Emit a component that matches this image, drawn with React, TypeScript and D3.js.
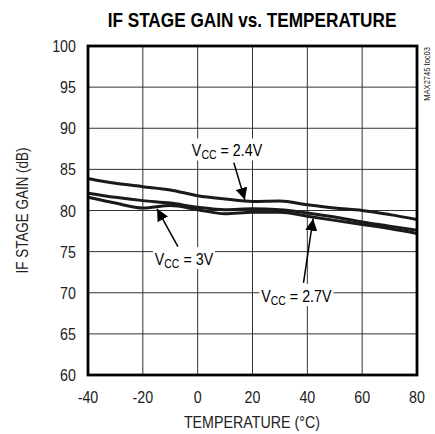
import React from "react";
import * as d3 from "d3";

// temperatures (°C) and gain (dB) per supply voltage
const temps = [-40, -30, -20, -10, 0, 10, 20, 30, 40, 50, 60, 70, 80];
const gain24 = [83.9, 83.3, 82.9, 82.5, 81.8, 81.4, 81.1, 81.15, 80.7, 80.3, 80.0, 79.5, 78.9];
const gain27 = [82.1, 81.6, 81.2, 80.9, 80.4, 80.1, 80.2, 80.1, 79.7, 79.2, 78.6, 78.1, 77.6];
const gain30 = [81.6, 80.9, 80.3, 80.6, 80.1, 79.6, 79.8, 79.8, 79.3, 78.8, 78.3, 77.8, 77.2];

const xTicks = [-40, -20, 0, 20, 40, 60, 80];
const yTicks = [60, 65, 70, 75, 80, 85, 90, 95, 100];

// annotation: label position, arrow start, arrow tip (data units)
const notes = [
  { text: "2.4V", lx: 10.7, ly: 87.3, ax: [13.2, 85.8], tip: [17.2, 81.3] },
  { text: "3V", lx: -5, ly: 74.1, ax: [-7.2, 75.6], tip: [-14.8, 80.2] },
  { text: "2.7V", lx: 36, ly: 69.6, ax: [38.6, 71.2], tip: [42.1, 79.0] },
];

const FONT = "'Liberation Sans', Arial, sans-serif";

// condensed text helper (horizontal squeeze mimics a narrow face)
const T = ({ x, y, rot = 0, sq = 0.84, children, ...rest }: any) => (
  <text transform={`translate(${x},${y}) rotate(${rot}) scale(${sq},1)`} {...rest}>
    {children}
  </text>
);

export default function App() {
  const margin = { left: 88, top: 46, right: 18, bottom: 59 };
  const width = 435;
  const height = 434;
  const x = d3.scaleLinear().domain([-40, 80]).range([margin.left, width - margin.right]);
  const y = d3.scaleLinear().domain([60, 100]).range([height - margin.bottom, margin.top]);

  const line = d3
    .line<number>()
    .x((_, i) => x(temps[i]))
    .y((d) => y(d))
    .curve(d3.curveMonotoneX);

  const series = [gain24, gain27, gain30];

  return (
    <svg
      width={width}
      height={height}
      style={{ position: "absolute", left: 0, top: 0, background: "#fff" }}
      fontFamily={FONT}
    >
      <defs>
        <marker id="head" viewBox="0 0 10 10" refX="10" refY="5" markerWidth="12" markerHeight="12" markerUnits="userSpaceOnUse" orient="auto">
          <path d="M0,0 L10,5 L0,10 z" fill="#000" />
        </marker>
      </defs>

      <T x={252} y={27} sq={0.86} textAnchor="middle" fontSize={20} fontWeight="bold" fill="#000">
        IF STAGE GAIN vs. TEMPERATURE
      </T>

      {/* grid */}
      {xTicks.slice(1, -1).map((t) => (
        <line key={"gx" + t} x1={x(t)} x2={x(t)} y1={y(60)} y2={y(100)} stroke="#333" strokeWidth={1} />
      ))}
      {yTicks.slice(1, -1).map((t) => (
        <line key={"gy" + t} x1={x(-40)} x2={x(80)} y1={y(t)} y2={y(t)} stroke="#333" strokeWidth={1} />
      ))}

      {/* curves */}
      {series.map((s, i) => (
        <path key={i} d={line(s) || ""} fill="none" stroke="#1a1a1a" strokeWidth={3} />
      ))}

      {/* annotations */}
      {notes.map((n) => {
        const w = n.text.length > 2 ? 74 : 62;
        return (
          <g key={n.text}>
            <rect x={x(n.lx) - w / 2} y={y(n.ly) - 12} width={w} height={22} fill="#fff" />
            <T x={x(n.lx)} y={y(n.ly) + 6} textAnchor="middle" fontSize={17} fill="#000">
              V<tspan fontSize={12.5} dy={3}>CC</tspan>
              <tspan dy={-3}>{" = " + n.text}</tspan>
            </T>
            <line
              x1={x(n.ax[0])}
              y1={y(n.ax[1])}
              x2={x(n.tip[0])}
              y2={y(n.tip[1])}
              stroke="#000"
              strokeWidth={1.5}
              markerEnd="url(#head)"
            />
          </g>
        );
      })}

      {/* frame */}
      <rect
        x={x(-40)}
        y={y(100)}
        width={x(80) - x(-40)}
        height={y(60) - y(100)}
        fill="none"
        stroke="#000"
        strokeWidth={2.8}
      />

      {/* tick labels */}
      {yTicks.map((t) => (
        <T key={"ty" + t} x={76} y={y(t) + 6} textAnchor="end" fontSize={17} fill="#222">
          {t}
        </T>
      ))}
      {xTicks.map((t) => (
        <T key={"tx" + t} x={x(t)} y={403} textAnchor="middle" fontSize={17} fill="#222">
          {t}
        </T>
      ))}

      <T x={252} y={428} textAnchor="middle" fontSize={17} fill="#222">
        TEMPERATURE (°C)
      </T>
      <T x={28} y={(y(60) + y(100)) / 2} rot={-90} textAnchor="middle" fontSize={16} fill="#222">
        IF STAGE GAIN (dB)
      </T>
      <T x={430} y={47} rot={-90} textAnchor="end" fontSize={9} fill="#222">
        MAX2745 toc03
      </T>
    </svg>
  );
}
